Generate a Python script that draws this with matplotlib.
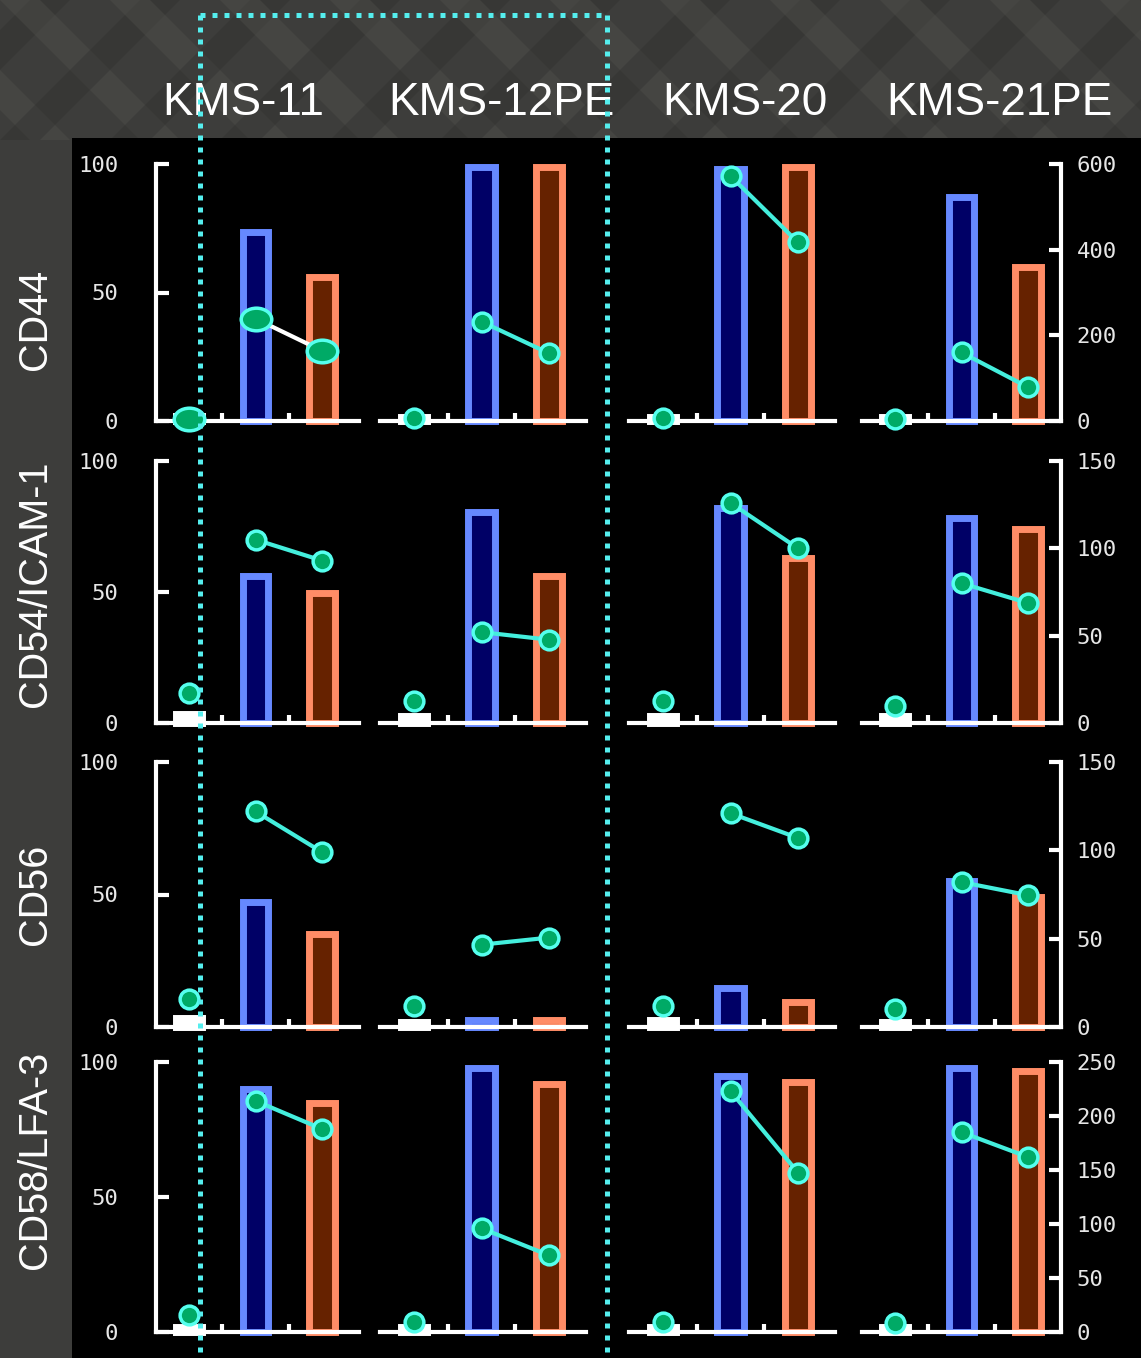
import matplotlib
matplotlib.use("Agg")
import matplotlib.pyplot as plt
from matplotlib.patches import Rectangle
from matplotlib.lines import Line2D
from matplotlib.path import Path
import numpy as np

# ---------------- data ----------------
cell_lines = ["KMS-11", "KMS-12PE", "KMS-20", "KMS-21PE"]
markers_cd = ["CD44", "CD54/ICAM-1", "CD56", "CD58/LFA-3"]

# % positive cells: [control, condition A (blue), condition B (orange)]
pct_cd44 = [[2, 73.5, 56], [1.5, 99, 99], [1.5, 98, 99], [1.5, 87, 60]]
pct_cd54 = [[3.5, 56, 49.5], [2.5, 80.5, 56], [2.5, 82, 63], [2.5, 78.4, 74]]
pct_cd56 = [[3.5, 47.2, 35], [2, 2.5, 2.5], [2.5, 14.6, 9.5], [2, 55, 49]]
pct_cd58 = [[2, 90, 85], [2, 97.8, 91.8], [2, 95, 92.7], [2, 97.8, 96.8]]

# MFI (right axis): [control, condition A, condition B]
mfi_cd44 = [[5, 239, 164], [6, 232, 158], [6, 572, 417], [5, 160, 79]]
mfi_cd54 = [[17, 105, 93], [12.6, 52, 47.7], [12.7, 126, 100], [9.7, 80, 68.7]]
mfi_cd56 = [[16, 122, 99], [11.8, 46.6, 50.6], [11.8, 121, 107], [10, 82, 74.6]]
mfi_cd58 = [[15.7, 214, 188], [9.5, 96, 71], [9.5, 223, 147.6], [8, 185, 162]]

pct_ticks = [0, 50, 100]
mfi_max = [600, 150, 150, 250]
mfi_step = [200, 50, 50, 50]

pct_all = [pct_cd44, pct_cd54, pct_cd56, pct_cd58]
mfi_all = [mfi_cd44, mfi_cd54, mfi_cd56, mfi_cd58]

# ---------------- style / layout ----------------
W, H = 1141, 1358
fig = plt.figure(figsize=(W / 100, H / 100), dpi=100, facecolor="#3d3d3b")

# black panel area
fig.add_artist(Rectangle((72 / W, 0), 1 - 72 / W, 1 - 138 / H,
                         transform=fig.transFigure, facecolor="black",
                         edgecolor="none", zorder=-1))

# subtle diagonal texture in background strips
for k in range(-6, 14):
    x0 = k * 110
    poly = plt.Polygon([[x0 / W, 1.0], [(x0 + 40) / W, 1.0],
                        [(x0 + 40 + 140) / W, 1 - 140 / H], [(x0 + 140) / W, 1 - 140 / H]],
                       closed=True, transform=fig.transFigure, facecolor="#5a5a55",
                       alpha=0.3, edgecolor="none", zorder=-2)
    fig.add_artist(poly)
    poly2 = plt.Polygon([[(x0 + 140) / W, 1.0], [(x0 + 180) / W, 1.0],
                         [(x0 + 40) / W, 1 - 140 / H], [(x0) / W, 1 - 140 / H]],
                        closed=True, transform=fig.transFigure, facecolor="#2a2a28",
                        alpha=0.3, edgecolor="none", zorder=-2)
    fig.add_artist(poly2)

row_zero = [421, 723, 1027, 1332]
row_top = [164, 461, 762, 1062]
col_p0 = [189, 414, 663, 895]
col_step = [66.5, 67.5, 67.5, 66.5]
col_xmax = [2.55, 2.55, 2.55, 2.5]

bar_fill = ["white", "#000066", "#662200"]
bar_edge = ["white", "#6688ff", "#ff8c66"]
line_col = "#44eedd"
mk_face = "#00aa66"
mk_edge = "#55ffee"
tick_col = "#e6e6e6"
mono = "DejaVu Sans Mono"
title_family = ["Liberation Sans", "DejaVu Sans"]

ellipse = Path.unit_circle().transformed(matplotlib.transforms.Affine2D().scale(1.35, 1.0))

for i in range(4):
    for j in range(4):
        p0, s = col_p0[j], col_step[j]
        left = p0 - 0.5 * s
        width = (col_xmax[j] + 0.5) * s
        ax = fig.add_axes([left / W, 1 - row_zero[i] / H, width / W,
                           (row_zero[i] - row_top[i]) / H])
        ax.set_facecolor("none")
        vals = pct_all[i][j]
        ax.bar(range(3), vals, width=0.39, color=bar_fill, edgecolor=bar_edge,
               linewidth=5, clip_on=False, zorder=1)
        ax.set_xlim(-0.5, col_xmax[j])
        ax.set_ylim(0, 100)
        for sp in ["top", "right"]:
            ax.spines[sp].set_visible(False)
        ax.spines["left"].set_visible(j == 0)
        ax.spines["bottom"].set_color("white")
        ax.spines["bottom"].set_linewidth(3)
        ax.spines["bottom"].set_zorder(3)
        ax.spines["left"].set_color("white")
        ax.spines["left"].set_linewidth(3)
        ax.set_xticks([0.5, 1.5])
        ax.tick_params(axis="x", direction="in", length=6, width=3, color="white",
                       labelbottom=False)
        if j == 0:
            ax.set_yticks(pct_ticks)
            ax.tick_params(axis="y", direction="in", length=9, width=3, color="white",
                           labelsize=16, labelcolor=tick_col, pad=27)
            for lb in ax.get_yticklabels():
                lb.set_fontfamily(mono)
        else:
            ax.set_yticks([])

        ax2 = ax.twinx()
        ax2.set_ylim(0, mfi_max[i])
        ax2.set_xlim(-0.5, col_xmax[j])
        for sp in ["top", "left", "bottom"]:
            ax2.spines[sp].set_visible(False)
        ax2.spines["right"].set_visible(j == 3)
        ax2.spines["right"].set_color("white")
        ax2.spines["right"].set_linewidth(3)
        if j == 3:
            ax2.set_yticks(np.arange(0, mfi_max[i] + 1, mfi_step[i]))
            ax2.tick_params(axis="y", direction="in", length=9, width=3, color="white",
                            labelsize=16, labelcolor=tick_col, pad=11)
            for lb in ax2.get_yticklabels():
                lb.set_fontfamily(mono)
        else:
            ax2.set_yticks([])
        m = mfi_all[i][j]
        big = (i == 0 and j == 0)
        mk = ellipse if big else "o"
        ms = 22 if big else 13.5
        lc = "white" if big else line_col
        ax2.plot([1, 2], m[1:], color=lc, lw=3, zorder=4, clip_on=False)
        ax2.plot([0, 1, 2], m, linestyle="none", marker=mk, markersize=ms,
                 markerfacecolor=mk_face, markeredgecolor=mk_edge,
                 markeredgewidth=2.5, zorder=5, clip_on=False)

# column titles
title_x = [243, 501, 745, 999]
for j, name in enumerate(cell_lines):
    fig.text(title_x[j] / W, 1 - 115 / H, name, ha="center", va="baseline",
             color="white", fontsize=33, family=title_family)

# row labels
row_y = [319, 584, 894, 1160]
for i, name in enumerate(markers_cd):
    fig.text(35 / W, 1 - row_y[i] / H, name, ha="center", va="center",
             rotation=90, color="white", fontsize=28.5, family=title_family)

# dotted highlight box
dot_kw = dict(transform=fig.transFigure, color="#55eeee", lw=3.6,
              linestyle=(0, (1, 1.4)), dash_capstyle="butt", zorder=10)
fig.add_artist(Line2D([200 / W, 200 / W], [1 - 15 / H, 0], **dot_kw))
fig.add_artist(Line2D([607 / W, 607 / W], [1 - 15 / H, 0], **dot_kw))
fig.add_artist(Line2D([200 / W, 607 / W], [1 - 15 / H, 1 - 15 / H], **dot_kw))

fig.savefig("out.png", dpi=100, facecolor=fig.get_facecolor())
